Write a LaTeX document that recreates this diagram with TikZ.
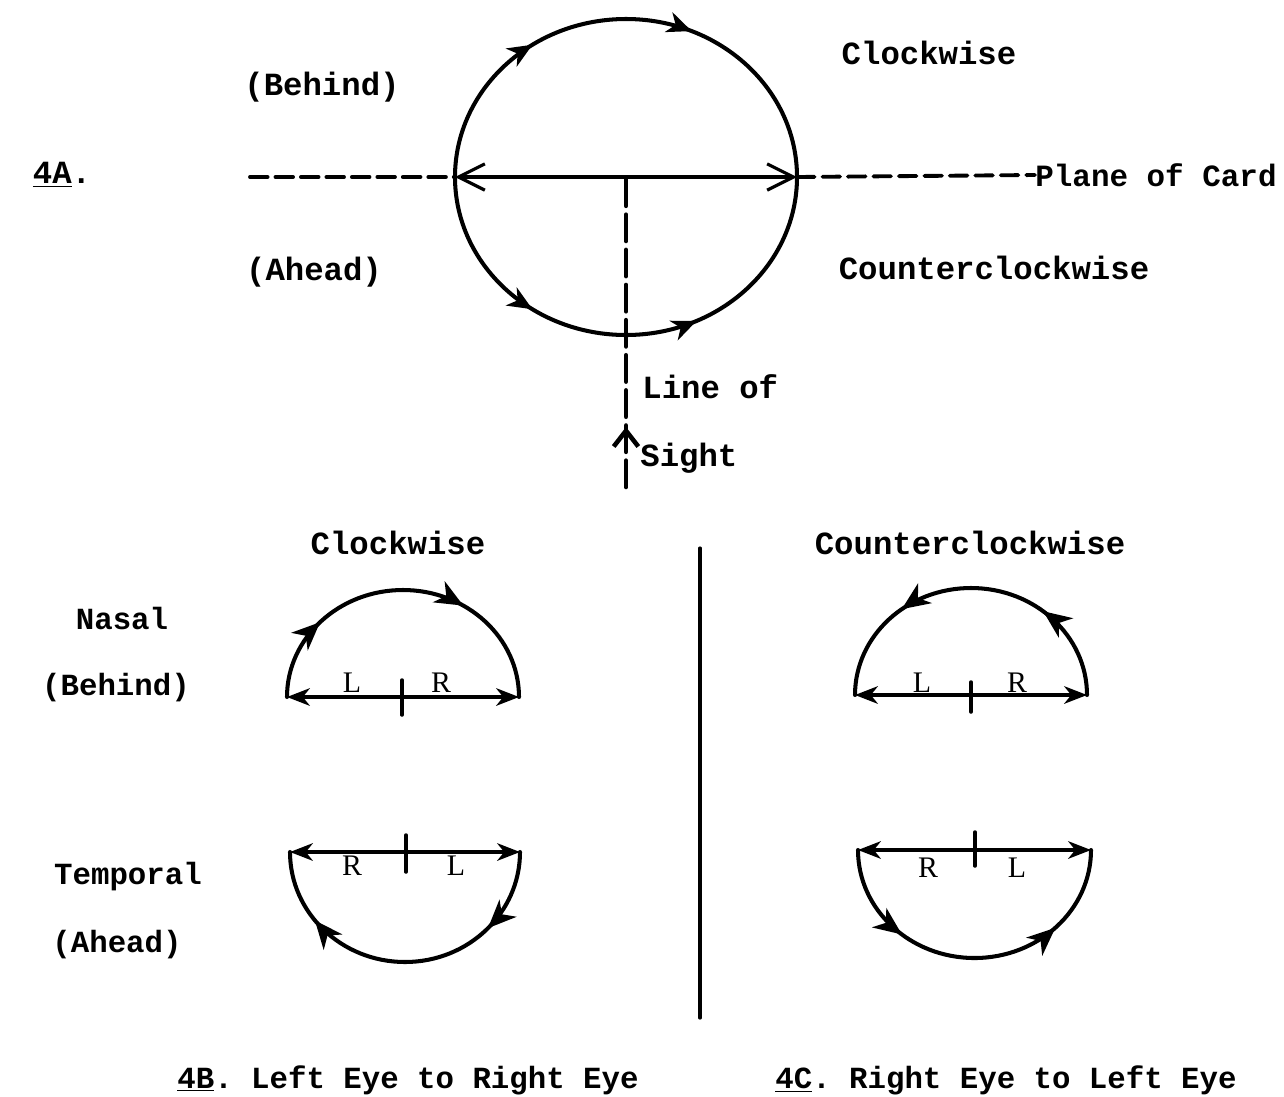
\documentclass[tikz,border=0pt]{standalone}
\usepackage{fontspec}
\setmonofont{Liberation Mono}
\newfontfamily\lrfont{Liberation Serif}
\usetikzlibrary{arrows.meta,decorations.markings}
\tikzset{
  txt/.style={%
    font=\ttfamily\bfseries\fontsize{18.4}{22}\selectfont,
    inner sep=0pt,
  },
  smalltxt/.style={%
    txt,
    font=\ttfamily\bfseries\fontsize{17.5}{21}\selectfont,
  },
  lr/.style={%
    font=\lrfont\fontsize{17}{20}\selectfont,
    inner sep=0pt,
  },
  curve/.style={line width=2.3pt},
  base/.style={%
    line width=1.8pt,
    {Stealth[length=13pt,width=10pt,inset=4pt]}-{Stealth[length=13pt,width=10pt,inset=4pt]},
  },
  plane/.style={line width=2.2pt,dash pattern=on 10pt off 4.5pt},
  sight/.style={line width=2.6pt,dash pattern=on 15pt off 5pt},
  tick/.style={line width=2pt},
  twoarrows/.style n args={3}{%
    postaction={decorate},
    decoration={markings,
      mark=at position #1 with {\arrow{Stealth[length=#3,width=0.85*#3,inset=0.3*#3]}},
      mark=at position #2 with {\arrow{Stealth[length=#3,width=0.85*#3,inset=0.3*#3]}}
    }
  }
}

\begin{document}
\begin{tikzpicture}[x=0.02cm,y=0.02cm,line cap=round,line join=round]
\useasboundingbox (0,0) rectangle (1284,-1096);
% 4A circle
\coordinate (O) at (626,-177);
\coordinate (W) at (455,-177);
\coordinate (E) at (797,-177);
\coordinate (pl) at (250,-177);
\coordinate (s) at (626,-487);
\draw[curve,twoarrows={.31}{.63}{14pt}] (W) arc[start angle=180,end angle=0,x radius=171,y radius=158];
\draw[curve,twoarrows={.31}{.64}{14pt}] (W) arc[start angle=180,end angle=360,x radius=171,y radius=158];
\draw[line width=1.8pt,{Straight Barb[length=15pt,width=15pt]}-{Straight Barb[length=15pt,width=15pt]}] (W) -- (E);
\node[txt,font=\ttfamily\bfseries\fontsize{17.6}{21}\selectfont,anchor=west] (plane) at (1035,-175) {Plane of Card};
\draw[plane] (pl) -- (W);
\draw[plane] (E) -- (plane.west);
\draw[sight] (s) -- (O);
\draw[line width=2.6pt,-{Straight Barb[length=9pt,width=14pt]}] (626,-447) -- (626,-427);
\node[txt] (label4A) at (62,-175) {\underline{4A}.};
\node[txt] (behindA) at (322,-87) {(Behind)};
\node[txt] (aheadA) at (314,-272) {(Ahead)};
\node[txt] (cwA) at (929,-53) {Clockwise};
\node[txt] (ccwA) at (994,-268) {Counterclockwise};
\node[txt,anchor=west] (lineof) at (642,-387) {Line of};
\node[txt,anchor=west] (sight) at (640,-458) {Sight};
% headings
\node[txt] (cwB) at (398,-543) {Clockwise};
\node[txt] (ccwC) at (970,-543) {Counterclockwise};
\node[smalltxt] (nasal) at (122,-618) {Nasal};
\node[smalltxt] (behindB) at (116,-688) {(Behind)};
\node[smalltxt] (temporal) at (128,-877) {Temporal};
\node[smalltxt] (aheadB) at (117,-945) {(Ahead)};
\draw[line width=1.8pt] (700,-548) -- (700,-1018);
% 4B nasal
\coordinate (bnl) at (287,-697);
\coordinate (bnr) at (519,-697);
\draw[curve,twoarrows={.24}{.68}{16pt}] (bnl) arc[start angle=180,end angle=0,x radius=116,y radius=107];
\draw[base] (bnl) -- (bnr);
\draw[tick] (402,-680) -- (402,-715);
\node[lr] (bnL) at (352,-683) {L};
\node[lr] (bnR) at (441,-683) {R};
% 4B temporal
\coordinate (btl) at (290,-852);
\coordinate (btr) at (520,-852);
\draw[curve,twoarrows={.24}{.79}{16pt}] (btr) arc[start angle=0,end angle=-180,x radius=115,y radius=110];
\draw[base] (btl) -- (btr);
\draw[tick] (406,-835) -- (406,-872);
\node[lr] (btR) at (352,-866) {R};
\node[lr] (btL) at (456,-866) {L};
% 4C nasal
\coordinate (cnl) at (855,-695);
\coordinate (cnr) at (1087,-695);
\draw[curve,twoarrows={.28}{.71}{16pt}] (cnr) arc[start angle=0,end angle=180,x radius=116,y radius=107];
\draw[base] (cnl) -- (cnr);
\draw[tick] (971,-682) -- (971,-712);
\node[lr] (cnL) at (922,-683) {L};
\node[lr] (cnR) at (1017,-683) {R};
% 4C temporal
\coordinate (ctl) at (858,-850);
\coordinate (ctr) at (1091,-850);
\draw[curve,twoarrows={.28}{.75}{16pt}] (ctl) arc[start angle=180,end angle=360,x radius=116.5,y radius=108];
\draw[base] (ctl) -- (ctr);
\draw[tick] (975,-832) -- (975,-866);
\node[lr] (ctR) at (928,-868) {R};
\node[lr] (ctL) at (1017,-868) {L};
% captions
\node[smalltxt] (capB) at (408,-1080) {\underline{4B}.\ Left Eye to Right Eye};
\node[smalltxt] (capC) at (1006,-1080) {\underline{4C}.\ Right Eye to Left Eye};
\end{tikzpicture}
\end{document}
